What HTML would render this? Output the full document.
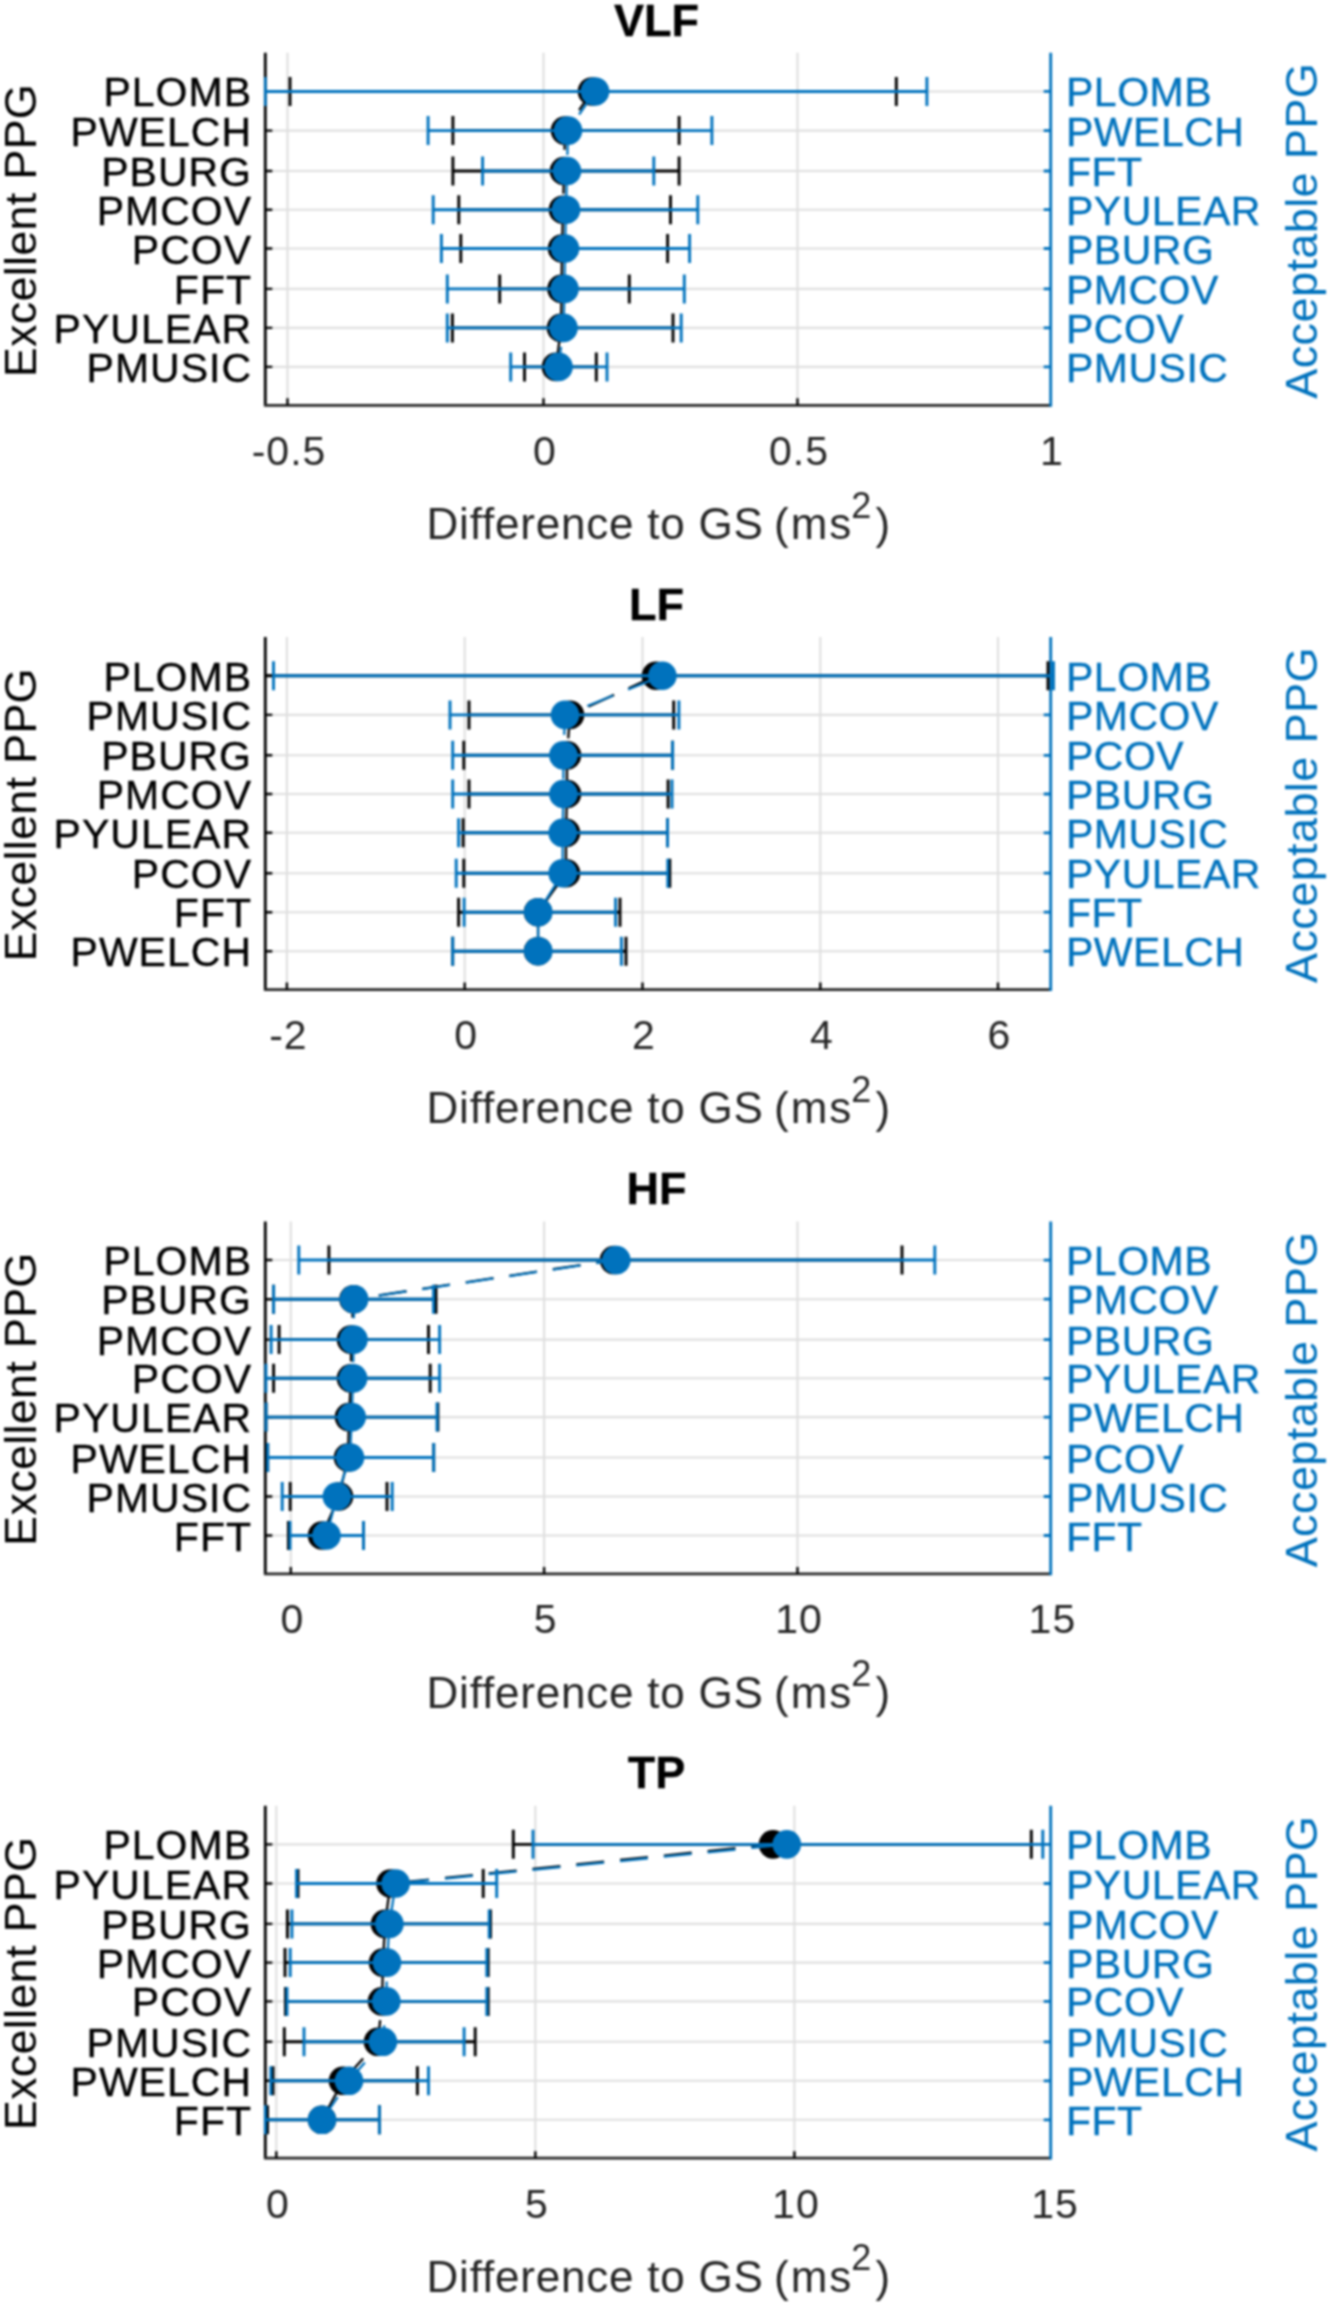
<!DOCTYPE html>
<html><head><meta charset="utf-8"><style>
html,body{margin:0;padding:0;background:#fff;width:1330px;height:2305px;overflow:hidden}
svg{display:block}
#fig{filter:blur(0.8px)}
text{font-family:"Liberation Sans",sans-serif}
.tl{font-size:41px;fill:#000;stroke:#000;stroke-width:0.35px;letter-spacing:1px}
.tr{font-size:41px;fill:#0072bd;stroke:#0072bd;stroke-width:0.35px;letter-spacing:0.5px}
.tx{font-size:41px;fill:#262626;letter-spacing:1px}
.ti{font-size:45px;font-weight:bold;fill:#000;stroke:#000;stroke-width:0.35px}
.xl{font-size:44px;fill:#262626;letter-spacing:0.8px}
.yl{font-size:45px;fill:#000;letter-spacing:0.25px}
.yr{font-size:45px;fill:#0072bd;letter-spacing:0.4px}
</style></head><body>
<svg id="fig" width="1330" height="2305" viewBox="0 0 1330 2305">
<rect width="1330" height="2305" fill="#fff"/>
<path d="M287.5 52.8V405.3M543.5 52.8V405.3M797.5 52.8V405.3M265.3 91.45H1050.7M265.3 130.6H1050.7M265.3 171H1050.7M265.3 209.7H1050.7M265.3 248.5H1050.7M265.3 288.9H1050.7M265.3 327.9H1050.7M265.3 366.9H1050.7" stroke="#dfdfdf" stroke-width="2.1" fill="none"/>
<path d="M265.3 52.8V405.3" stroke="#000" stroke-width="2.8" fill="none"/>
<path d="M263.9 405.3H1050.7" stroke="#262626" stroke-width="2.8" fill="none"/>
<path d="M265.3 91.45H272.3M265.3 130.6H272.3M265.3 171H272.3M265.3 209.7H272.3M265.3 248.5H272.3M265.3 288.9H272.3M265.3 327.9H272.3M265.3 366.9H272.3M287.5 405.3V398.3M543.5 405.3V398.3M797.5 405.3V398.3" stroke="#000" stroke-width="2.4" fill="none"/>
<path d="M1050.7 52.8V406.7M1050.7 91.45H1043.7M1050.7 130.6H1043.7M1050.7 171H1043.7M1050.7 209.7H1043.7M1050.7 248.5H1043.7M1050.7 288.9H1043.7M1050.7 327.9H1043.7M1050.7 366.9H1043.7" stroke="#0072bd" stroke-width="2.8" fill="none"/>
<svg x="263.8" y="0" width="791.4" height="2305" viewBox="263.8 0 791.4 2305" overflow="hidden">
<path d="M290 91.45H896.3M290 76.95V105.95M896.3 76.95V105.95M452.9 130.6H679.1M452.9 116.1V145.1M679.1 116.1V145.1M452.9 171H679.1M452.9 156.5V185.5M679.1 156.5V185.5M458.8 209.7H670.5M458.8 195.2V224.2M670.5 195.2V224.2M460.8 248.5H667.6M460.8 234V263M667.6 234V263M499.7 288.9H629.3M499.7 274.4V303.4M629.3 274.4V303.4M452.4 327.9H673M452.4 313.4V342.4M673 313.4V342.4M524.5 366.9H596.3M524.5 352.4V381.4M596.3 352.4V381.4" stroke="#000" stroke-width="2.9" fill="none"/>
<polyline points="592,91.45 565,130.6 564,171 563,209.7 562,248.5 561.5,288.9 561,327.9 556,366.9" stroke="#000" stroke-width="2.3" fill="none" stroke-dasharray="28 16" stroke-dashoffset="5.3024831127023715"/>
<circle cx="592" cy="91.45" r="14.3" fill="#000"/>
<circle cx="565" cy="130.6" r="14.3" fill="#000"/>
<circle cx="564" cy="171" r="14.3" fill="#000"/>
<circle cx="563" cy="209.7" r="14.3" fill="#000"/>
<circle cx="562" cy="248.5" r="14.3" fill="#000"/>
<circle cx="561.5" cy="288.9" r="14.3" fill="#000"/>
<circle cx="561" cy="327.9" r="14.3" fill="#000"/>
<circle cx="556" cy="366.9" r="14.3" fill="#000"/>
<path d="M265.3 91.45H926.9M265.3 76.95V105.95M926.9 76.95V105.95M428.1 130.6H711.9M428.1 116.1V145.1M711.9 116.1V145.1M482.6 171H653.8M482.6 156.5V185.5M653.8 156.5V185.5M433.2 209.7H697.8M433.2 195.2V224.2M697.8 195.2V224.2M441.4 248.5H689.6M441.4 234V263M689.6 234V263M447.3 288.9H684.3M447.3 274.4V303.4M684.3 274.4V303.4M447.3 327.9H681.2M447.3 313.4V342.4M681.2 313.4V342.4M510.7 366.9H607M510.7 352.4V381.4M607 352.4V381.4" stroke="#0072bd" stroke-width="2.9" fill="none"/>
<polyline points="595,91.45 568,130.6 567,171 566,209.7 565,248.5 564.5,288.9 563.5,327.9 558.5,366.9" stroke="#0072bd" stroke-width="2.3" fill="none" stroke-dasharray="28 16" stroke-dashoffset="0"/>
<circle cx="595" cy="91.45" r="14.3" fill="#0072bd"/>
<circle cx="568" cy="130.6" r="14.3" fill="#0072bd"/>
<circle cx="567" cy="171" r="14.3" fill="#0072bd"/>
<circle cx="566" cy="209.7" r="14.3" fill="#0072bd"/>
<circle cx="565" cy="248.5" r="14.3" fill="#0072bd"/>
<circle cx="564.5" cy="288.9" r="14.3" fill="#0072bd"/>
<circle cx="563.5" cy="327.9" r="14.3" fill="#0072bd"/>
<circle cx="558.5" cy="366.9" r="14.3" fill="#0072bd"/>
</svg>
<text x="252" y="106.45" class="tl" text-anchor="end">PLOMB</text>
<text x="1066" y="106.45" class="tr">PLOMB</text>
<text x="252" y="145.6" class="tl" text-anchor="end">PWELCH</text>
<text x="1066" y="145.6" class="tr">PWELCH</text>
<text x="252" y="186" class="tl" text-anchor="end">PBURG</text>
<text x="1066" y="186" class="tr">FFT</text>
<text x="252" y="224.7" class="tl" text-anchor="end">PMCOV</text>
<text x="1066" y="224.7" class="tr">PYULEAR</text>
<text x="252" y="263.5" class="tl" text-anchor="end">PCOV</text>
<text x="1066" y="263.5" class="tr">PBURG</text>
<text x="252" y="303.9" class="tl" text-anchor="end">FFT</text>
<text x="1066" y="303.9" class="tr">PMCOV</text>
<text x="252" y="342.9" class="tl" text-anchor="end">PYULEAR</text>
<text x="1066" y="342.9" class="tr">PCOV</text>
<text x="252" y="381.9" class="tl" text-anchor="end">PMUSIC</text>
<text x="1066" y="381.9" class="tr">PMUSIC</text>
<text x="289" y="464.7" class="tx" text-anchor="middle">-0.5</text>
<text x="545" y="464.7" class="tx" text-anchor="middle">0</text>
<text x="799" y="464.7" class="tx" text-anchor="middle">0.5</text>
<text x="1051.9" y="464.7" class="tx" text-anchor="middle">1</text>
<text x="656.5" y="35.5" class="ti" text-anchor="middle">VLF</text>
<text y="539.1" class="xl"><tspan x="426.5">Difference to GS</tspan><tspan x="774" letter-spacing="2">(ms</tspan><tspan x="851.2" dy="-21.6" font-size="36" letter-spacing="0">2</tspan><tspan x="875.5" dy="21.6" letter-spacing="0">)</tspan></text>
<text transform="translate(35.5 230.6) rotate(-90)" class="yl" text-anchor="middle">Excellent PPG</text>
<text transform="translate(1317 230.8) rotate(-90)" class="yr" text-anchor="middle">Acceptable PPG</text>
<path d="M286.9 637.1V989.6M464.7 637.1V989.6M642.5 637.1V989.6M820.3 637.1V989.6M998 637.1V989.6M265.3 675.75H1050.7M265.3 714.9H1050.7M265.3 755.3H1050.7M265.3 794H1050.7M265.3 832.8H1050.7M265.3 873.2H1050.7M265.3 912.2H1050.7M265.3 951.2H1050.7" stroke="#dfdfdf" stroke-width="2.1" fill="none"/>
<path d="M265.3 637.1V989.6" stroke="#000" stroke-width="2.8" fill="none"/>
<path d="M263.9 989.6H1050.7" stroke="#262626" stroke-width="2.8" fill="none"/>
<path d="M265.3 675.75H272.3M265.3 714.9H272.3M265.3 755.3H272.3M265.3 794H272.3M265.3 832.8H272.3M265.3 873.2H272.3M265.3 912.2H272.3M265.3 951.2H272.3M286.9 989.6V982.6M464.7 989.6V982.6M642.5 989.6V982.6M820.3 989.6V982.6M998 989.6V982.6" stroke="#000" stroke-width="2.4" fill="none"/>
<path d="M1050.7 637.1V991M1050.7 675.75H1043.7M1050.7 714.9H1043.7M1050.7 755.3H1043.7M1050.7 794H1043.7M1050.7 832.8H1043.7M1050.7 873.2H1043.7M1050.7 912.2H1043.7M1050.7 951.2H1043.7" stroke="#0072bd" stroke-width="2.8" fill="none"/>
<svg x="263.8" y="0" width="791.4" height="2305" viewBox="263.8 0 791.4 2305" overflow="hidden">
<path d="M265.3 675.75H1048M1048 661.25V690.25M469 714.9H673.7M469 700.4V729.4M673.7 700.4V729.4M463.8 755.3H672.6M463.8 740.8V769.8M672.6 740.8V769.8M469 794H668.1M469 779.5V808.5M668.1 779.5V808.5M463.1 832.8H667.5M463.1 818.3V847.3M667.5 818.3V847.3M463.8 873.2H669.8M463.8 858.7V887.7M669.8 858.7V887.7M458.6 912.2H620M458.6 897.7V926.7M620 897.7V926.7M452.7 951.2H626M452.7 936.7V965.7M626 936.7V965.7" stroke="#000" stroke-width="2.9" fill="none"/>
<polyline points="656,675.75 570,714.9 567,755.3 567,794 566,832.8 566,873.2 538,912.2 538,951.2" stroke="#000" stroke-width="2.3" fill="none" stroke-dasharray="28 16" stroke-dashoffset="41.902569324334294"/>
<circle cx="656" cy="675.75" r="14.3" fill="#000"/>
<circle cx="570" cy="714.9" r="14.3" fill="#000"/>
<circle cx="567" cy="755.3" r="14.3" fill="#000"/>
<circle cx="567" cy="794" r="14.3" fill="#000"/>
<circle cx="566" cy="832.8" r="14.3" fill="#000"/>
<circle cx="566" cy="873.2" r="14.3" fill="#000"/>
<circle cx="538" cy="912.2" r="14.3" fill="#000"/>
<circle cx="538" cy="951.2" r="14.3" fill="#000"/>
<path d="M273.5 675.75H1053.5M273.5 661.25V690.25M1053.5 661.25V690.25M450 714.9H678.9M450 700.4V729.4M678.9 700.4V729.4M452.7 755.3H672.6M452.7 740.8V769.8M672.6 740.8V769.8M452.7 794H672M452.7 779.5V808.5M672 779.5V808.5M458.6 832.8H667.5M458.6 818.3V847.3M667.5 818.3V847.3M456.2 873.2H667.8M456.2 858.7V887.7M667.8 858.7V887.7M464.1 912.2H615.6M464.1 897.7V926.7M615.6 897.7V926.7M452.7 951.2H621.4M452.7 936.7V965.7M621.4 936.7V965.7" stroke="#0072bd" stroke-width="2.9" fill="none"/>
<polyline points="662.4,675.75 565,714.9 563.4,755.3 563.4,794 562.7,832.8 562.7,873.2 538.2,912.2 538.2,951.2" stroke="#0072bd" stroke-width="2.3" fill="none" stroke-dasharray="28 16" stroke-dashoffset="35"/>
<circle cx="662.4" cy="675.75" r="14.3" fill="#0072bd"/>
<circle cx="565" cy="714.9" r="14.3" fill="#0072bd"/>
<circle cx="563.4" cy="755.3" r="14.3" fill="#0072bd"/>
<circle cx="563.4" cy="794" r="14.3" fill="#0072bd"/>
<circle cx="562.7" cy="832.8" r="14.3" fill="#0072bd"/>
<circle cx="562.7" cy="873.2" r="14.3" fill="#0072bd"/>
<circle cx="538.2" cy="912.2" r="14.3" fill="#0072bd"/>
<circle cx="538.2" cy="951.2" r="14.3" fill="#0072bd"/>
</svg>
<text x="252" y="690.75" class="tl" text-anchor="end">PLOMB</text>
<text x="1066" y="690.75" class="tr">PLOMB</text>
<text x="252" y="729.9" class="tl" text-anchor="end">PMUSIC</text>
<text x="1066" y="729.9" class="tr">PMCOV</text>
<text x="252" y="770.3" class="tl" text-anchor="end">PBURG</text>
<text x="1066" y="770.3" class="tr">PCOV</text>
<text x="252" y="809" class="tl" text-anchor="end">PMCOV</text>
<text x="1066" y="809" class="tr">PBURG</text>
<text x="252" y="847.8" class="tl" text-anchor="end">PYULEAR</text>
<text x="1066" y="847.8" class="tr">PMUSIC</text>
<text x="252" y="888.2" class="tl" text-anchor="end">PCOV</text>
<text x="1066" y="888.2" class="tr">PYULEAR</text>
<text x="252" y="927.2" class="tl" text-anchor="end">FFT</text>
<text x="1066" y="927.2" class="tr">FFT</text>
<text x="252" y="966.2" class="tl" text-anchor="end">PWELCH</text>
<text x="1066" y="966.2" class="tr">PWELCH</text>
<text x="288.4" y="1049" class="tx" text-anchor="middle">-2</text>
<text x="466.2" y="1049" class="tx" text-anchor="middle">0</text>
<text x="644" y="1049" class="tx" text-anchor="middle">2</text>
<text x="821.8" y="1049" class="tx" text-anchor="middle">4</text>
<text x="999.5" y="1049" class="tx" text-anchor="middle">6</text>
<text x="656.5" y="619.8" class="ti" text-anchor="middle">LF</text>
<text y="1123.4" class="xl"><tspan x="426.5">Difference to GS</tspan><tspan x="774" letter-spacing="2">(ms</tspan><tspan x="851.2" dy="-21.6" font-size="36" letter-spacing="0">2</tspan><tspan x="875.5" dy="21.6" letter-spacing="0">)</tspan></text>
<text transform="translate(35.5 814.9) rotate(-90)" class="yl" text-anchor="middle">Excellent PPG</text>
<text transform="translate(1317 815.1) rotate(-90)" class="yr" text-anchor="middle">Acceptable PPG</text>
<path d="M290.8 1221.4V1573.9M544.1 1221.4V1573.9M797.5 1221.4V1573.9M265.3 1260.05H1050.7M265.3 1299.2H1050.7M265.3 1339.6H1050.7M265.3 1378.3H1050.7M265.3 1417.1H1050.7M265.3 1457.5H1050.7M265.3 1496.5H1050.7M265.3 1535.5H1050.7" stroke="#dfdfdf" stroke-width="2.1" fill="none"/>
<path d="M265.3 1221.4V1573.9" stroke="#000" stroke-width="2.8" fill="none"/>
<path d="M263.9 1573.9H1050.7" stroke="#262626" stroke-width="2.8" fill="none"/>
<path d="M265.3 1260.05H272.3M265.3 1299.2H272.3M265.3 1339.6H272.3M265.3 1378.3H272.3M265.3 1417.1H272.3M265.3 1457.5H272.3M265.3 1496.5H272.3M265.3 1535.5H272.3M290.8 1573.9V1566.9M544.1 1573.9V1566.9M797.5 1573.9V1566.9" stroke="#000" stroke-width="2.4" fill="none"/>
<path d="M1050.7 1221.4V1575.3M1050.7 1260.05H1043.7M1050.7 1299.2H1043.7M1050.7 1339.6H1043.7M1050.7 1378.3H1043.7M1050.7 1417.1H1043.7M1050.7 1457.5H1043.7M1050.7 1496.5H1043.7M1050.7 1535.5H1043.7" stroke="#0072bd" stroke-width="2.8" fill="none"/>
<svg x="263.8" y="0" width="791.4" height="2305" viewBox="263.8 0 791.4 2305" overflow="hidden">
<path d="M328.9 1260.05H902M328.9 1245.55V1274.55M902 1245.55V1274.55M273.6 1299.2H436M273.6 1284.7V1313.7M436 1284.7V1313.7M279.1 1339.6H428.5M279.1 1325.1V1354.1M428.5 1325.1V1354.1M273.6 1378.3H430.2M273.6 1363.8V1392.8M430.2 1363.8V1392.8M266 1417.1H437.9M266 1402.6V1431.6M437.9 1402.6V1431.6M267.7 1457.5H433.7M267.7 1443V1472M433.7 1443V1472M290.2 1496.5H387M290.2 1482V1511M387 1482V1511M288.4 1535.5H363.5M288.4 1521V1550M363.5 1521V1550" stroke="#000" stroke-width="2.9" fill="none"/>
<polyline points="614,1260.05 353.5,1299.2 351,1339.6 351,1378.3 349,1417.1 348,1457.5 339,1496.5 322,1535.5" stroke="#000" stroke-width="2.3" fill="none" stroke-dasharray="28 16" stroke-dashoffset="10.125757098970155"/>
<circle cx="614" cy="1260.05" r="14.3" fill="#000"/>
<circle cx="353.5" cy="1299.2" r="14.3" fill="#000"/>
<circle cx="351" cy="1339.6" r="14.3" fill="#000"/>
<circle cx="351" cy="1378.3" r="14.3" fill="#000"/>
<circle cx="349" cy="1417.1" r="14.3" fill="#000"/>
<circle cx="348" cy="1457.5" r="14.3" fill="#000"/>
<circle cx="339" cy="1496.5" r="14.3" fill="#000"/>
<circle cx="322" cy="1535.5" r="14.3" fill="#000"/>
<path d="M298.8 1260.05H934.8M298.8 1245.55V1274.55M934.8 1245.55V1274.55M273.6 1299.2H433.5M273.6 1284.7V1313.7M433.5 1284.7V1313.7M271.1 1339.6H439.6M271.1 1325.1V1354.1M439.6 1325.1V1354.1M265.9 1378.3H439.6M265.9 1363.8V1392.8M439.6 1363.8V1392.8M266 1417.1H437M266 1402.6V1431.6M437 1402.6V1431.6M267.7 1457.5H433.7M267.7 1443V1472M433.7 1443V1472M282.2 1496.5H392.2M282.2 1482V1511M392.2 1482V1511M290 1535.5H363.5M290 1521V1550M363.5 1521V1550" stroke="#0072bd" stroke-width="2.9" fill="none"/>
<polyline points="616.3,1260.05 354.1,1299.2 353.5,1339.6 353.1,1378.3 351.7,1417.1 350,1457.5 336.9,1496.5 326.5,1535.5" stroke="#0072bd" stroke-width="2.3" fill="none" stroke-dasharray="28 16" stroke-dashoffset="7.8"/>
<circle cx="616.3" cy="1260.05" r="14.3" fill="#0072bd"/>
<circle cx="354.1" cy="1299.2" r="14.3" fill="#0072bd"/>
<circle cx="353.5" cy="1339.6" r="14.3" fill="#0072bd"/>
<circle cx="353.1" cy="1378.3" r="14.3" fill="#0072bd"/>
<circle cx="351.7" cy="1417.1" r="14.3" fill="#0072bd"/>
<circle cx="350" cy="1457.5" r="14.3" fill="#0072bd"/>
<circle cx="336.9" cy="1496.5" r="14.3" fill="#0072bd"/>
<circle cx="326.5" cy="1535.5" r="14.3" fill="#0072bd"/>
</svg>
<text x="252" y="1275.05" class="tl" text-anchor="end">PLOMB</text>
<text x="1066" y="1275.05" class="tr">PLOMB</text>
<text x="252" y="1314.2" class="tl" text-anchor="end">PBURG</text>
<text x="1066" y="1314.2" class="tr">PMCOV</text>
<text x="252" y="1354.6" class="tl" text-anchor="end">PMCOV</text>
<text x="1066" y="1354.6" class="tr">PBURG</text>
<text x="252" y="1393.3" class="tl" text-anchor="end">PCOV</text>
<text x="1066" y="1393.3" class="tr">PYULEAR</text>
<text x="252" y="1432.1" class="tl" text-anchor="end">PYULEAR</text>
<text x="1066" y="1432.1" class="tr">PWELCH</text>
<text x="252" y="1472.5" class="tl" text-anchor="end">PWELCH</text>
<text x="1066" y="1472.5" class="tr">PCOV</text>
<text x="252" y="1511.5" class="tl" text-anchor="end">PMUSIC</text>
<text x="1066" y="1511.5" class="tr">PMUSIC</text>
<text x="252" y="1550.5" class="tl" text-anchor="end">FFT</text>
<text x="1066" y="1550.5" class="tr">FFT</text>
<text x="292.3" y="1633.3" class="tx" text-anchor="middle">0</text>
<text x="545.6" y="1633.3" class="tx" text-anchor="middle">5</text>
<text x="799" y="1633.3" class="tx" text-anchor="middle">10</text>
<text x="1052.4" y="1633.3" class="tx" text-anchor="middle">15</text>
<text x="656.5" y="1204.1" class="ti" text-anchor="middle">HF</text>
<text y="1707.7" class="xl"><tspan x="426.5">Difference to GS</tspan><tspan x="774" letter-spacing="2">(ms</tspan><tspan x="851.2" dy="-21.6" font-size="36" letter-spacing="0">2</tspan><tspan x="875.5" dy="21.6" letter-spacing="0">)</tspan></text>
<text transform="translate(35.5 1399.2) rotate(-90)" class="yl" text-anchor="middle">Excellent PPG</text>
<text transform="translate(1317 1399.4) rotate(-90)" class="yr" text-anchor="middle">Acceptable PPG</text>
<path d="M276.3 1805.7V2158.2M535.35 1805.7V2158.2M794.4 1805.7V2158.2M265.3 1844.35H1050.7M265.3 1883.5H1050.7M265.3 1923.9H1050.7M265.3 1962.6H1050.7M265.3 2001.4H1050.7M265.3 2041.8H1050.7M265.3 2080.8H1050.7M265.3 2119.8H1050.7" stroke="#dfdfdf" stroke-width="2.1" fill="none"/>
<path d="M265.3 1805.7V2158.2" stroke="#000" stroke-width="2.8" fill="none"/>
<path d="M263.9 2158.2H1050.7" stroke="#262626" stroke-width="2.8" fill="none"/>
<path d="M265.3 1844.35H272.3M265.3 1883.5H272.3M265.3 1923.9H272.3M265.3 1962.6H272.3M265.3 2001.4H272.3M265.3 2041.8H272.3M265.3 2080.8H272.3M265.3 2119.8H272.3M276.3 2158.2V2151.2M535.35 2158.2V2151.2M794.4 2158.2V2151.2" stroke="#000" stroke-width="2.4" fill="none"/>
<path d="M1050.7 1805.7V2159.6M1050.7 1844.35H1043.7M1050.7 1883.5H1043.7M1050.7 1923.9H1043.7M1050.7 1962.6H1043.7M1050.7 2001.4H1043.7M1050.7 2041.8H1043.7M1050.7 2080.8H1043.7M1050.7 2119.8H1043.7" stroke="#0072bd" stroke-width="2.8" fill="none"/>
<svg x="263.8" y="0" width="791.4" height="2305" viewBox="263.8 0 791.4 2305" overflow="hidden">
<path d="M513.3 1844.35H1031.3M513.3 1829.85V1858.85M1031.3 1829.85V1858.85M298 1883.5H483.2M298 1869V1898M483.2 1869V1898M287.4 1923.9H490.5M287.4 1909.4V1938.4M490.5 1909.4V1938.4M285 1962.6H488.2M285 1948.1V1977.1M488.2 1948.1V1977.1M285.5 2001.4H488.2M285.5 1986.9V2015.9M488.2 1986.9V2015.9M284.3 2041.8H475.2M284.3 2027.3V2056.3M475.2 2027.3V2056.3M273 2080.8H417.4M273 2066.3V2095.3M417.4 2066.3V2095.3M267.5 2119.8H379.4M267.5 2105.3V2134.3M379.4 2105.3V2134.3" stroke="#000" stroke-width="2.9" fill="none"/>
<polyline points="773,1844.35 390.5,1883.5 385,1923.9 383,1962.6 382,2001.4 378,2041.8 343,2080.8 322,2119.8" stroke="#000" stroke-width="2.3" fill="none" stroke-dasharray="28 16" stroke-dashoffset="50.269673556360154"/>
<circle cx="773" cy="1844.35" r="14.3" fill="#000"/>
<circle cx="390.5" cy="1883.5" r="14.3" fill="#000"/>
<circle cx="385" cy="1923.9" r="14.3" fill="#000"/>
<circle cx="383" cy="1962.6" r="14.3" fill="#000"/>
<circle cx="382" cy="2001.4" r="14.3" fill="#000"/>
<circle cx="378" cy="2041.8" r="14.3" fill="#000"/>
<circle cx="343" cy="2080.8" r="14.3" fill="#000"/>
<circle cx="322" cy="2119.8" r="14.3" fill="#000"/>
<path d="M533 1844.35H1042.8M533 1829.85V1858.85M1042.8 1829.85V1858.85M296.5 1883.5H496.7M296.5 1869V1898M496.7 1869V1898M291.9 1923.9H489.2M291.9 1909.4V1938.4M489.2 1909.4V1938.4M290.2 1962.6H486.8M290.2 1948.1V1977.1M486.8 1948.1V1977.1M287 2001.4H486.8M287 1986.9V2015.9M486.8 1986.9V2015.9M304 2041.8H464.1M304 2027.3V2056.3M464.1 2027.3V2056.3M270.8 2080.8H428.5M270.8 2066.3V2095.3M428.5 2066.3V2095.3M265.3 2119.8H379.4M265.3 2105.3V2134.3M379.4 2105.3V2134.3" stroke="#0072bd" stroke-width="2.9" fill="none"/>
<polyline points="786.8,1844.35 395.7,1883.5 389.4,1923.9 387,1962.6 386.3,2001.4 382.9,2041.8 349,2080.8 322,2119.8" stroke="#0072bd" stroke-width="2.3" fill="none" stroke-dasharray="28 16" stroke-dashoffset="36.4"/>
<circle cx="786.8" cy="1844.35" r="14.3" fill="#0072bd"/>
<circle cx="395.7" cy="1883.5" r="14.3" fill="#0072bd"/>
<circle cx="389.4" cy="1923.9" r="14.3" fill="#0072bd"/>
<circle cx="387" cy="1962.6" r="14.3" fill="#0072bd"/>
<circle cx="386.3" cy="2001.4" r="14.3" fill="#0072bd"/>
<circle cx="382.9" cy="2041.8" r="14.3" fill="#0072bd"/>
<circle cx="349" cy="2080.8" r="14.3" fill="#0072bd"/>
<circle cx="322" cy="2119.8" r="14.3" fill="#0072bd"/>
</svg>
<text x="252" y="1859.35" class="tl" text-anchor="end">PLOMB</text>
<text x="1066" y="1859.35" class="tr">PLOMB</text>
<text x="252" y="1898.5" class="tl" text-anchor="end">PYULEAR</text>
<text x="1066" y="1898.5" class="tr">PYULEAR</text>
<text x="252" y="1938.9" class="tl" text-anchor="end">PBURG</text>
<text x="1066" y="1938.9" class="tr">PMCOV</text>
<text x="252" y="1977.6" class="tl" text-anchor="end">PMCOV</text>
<text x="1066" y="1977.6" class="tr">PBURG</text>
<text x="252" y="2016.4" class="tl" text-anchor="end">PCOV</text>
<text x="1066" y="2016.4" class="tr">PCOV</text>
<text x="252" y="2056.8" class="tl" text-anchor="end">PMUSIC</text>
<text x="1066" y="2056.8" class="tr">PMUSIC</text>
<text x="252" y="2095.8" class="tl" text-anchor="end">PWELCH</text>
<text x="1066" y="2095.8" class="tr">PWELCH</text>
<text x="252" y="2134.8" class="tl" text-anchor="end">FFT</text>
<text x="1066" y="2134.8" class="tr">FFT</text>
<text x="277.8" y="2217.6" class="tx" text-anchor="middle">0</text>
<text x="536.85" y="2217.6" class="tx" text-anchor="middle">5</text>
<text x="795.9" y="2217.6" class="tx" text-anchor="middle">10</text>
<text x="1055" y="2217.6" class="tx" text-anchor="middle">15</text>
<text x="656.5" y="1788.4" class="ti" text-anchor="middle">TP</text>
<text y="2292" class="xl"><tspan x="426.5">Difference to GS</tspan><tspan x="774" letter-spacing="2">(ms</tspan><tspan x="851.2" dy="-21.6" font-size="36" letter-spacing="0">2</tspan><tspan x="875.5" dy="21.6" letter-spacing="0">)</tspan></text>
<text transform="translate(35.5 1983.5) rotate(-90)" class="yl" text-anchor="middle">Excellent PPG</text>
<text transform="translate(1317 1983.7) rotate(-90)" class="yr" text-anchor="middle">Acceptable PPG</text>
</svg>
</body></html>
